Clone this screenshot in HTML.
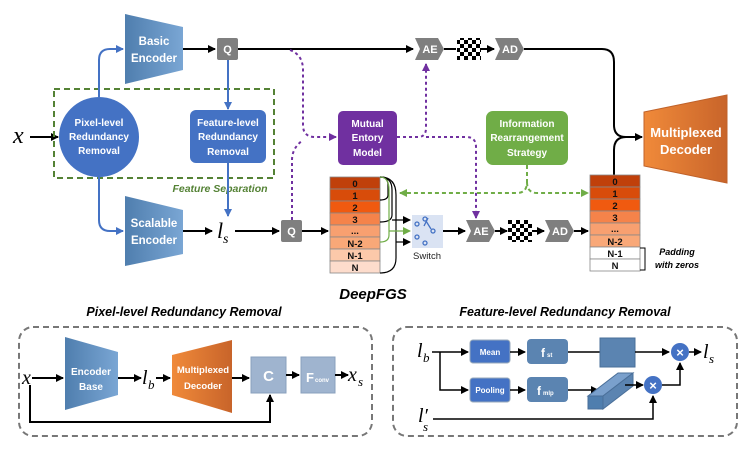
<!DOCTYPE html>
<html><head><meta charset="utf-8"><style>
html,body{margin:0;padding:0;background:#fff}
svg{display:block}
text{font-family:"Liberation Sans",sans-serif}
.w{fill:#fff;font-weight:bold;font-size:10px;text-anchor:middle}
.m{font-family:"Liberation Serif",serif;font-style:italic;font-size:20px}
.c{font-size:9.5px;font-weight:bold;text-anchor:middle;fill:#111}
</style></head><body>
<svg width="747" height="449" viewBox="0 0 747 449" xmlns="http://www.w3.org/2000/svg">
<defs>
<marker id="a" markerWidth="8" markerHeight="8" refX="7" refY="4" orient="auto" markerUnits="userSpaceOnUse"><path d="M0,0 L8,4 L0,8 z" fill="#000"/></marker>
<marker id="ab" markerWidth="8" markerHeight="8" refX="7" refY="4" orient="auto" markerUnits="userSpaceOnUse"><path d="M0,0 L8,4 L0,8 z" fill="#4472c4"/></marker>
<marker id="ap" markerWidth="8" markerHeight="8" refX="7" refY="4" orient="auto" markerUnits="userSpaceOnUse"><path d="M0,0 L8,4 L0,8 z" fill="#7030a0"/></marker>
<marker id="ag" markerWidth="8" markerHeight="8" refX="7" refY="4" orient="auto" markerUnits="userSpaceOnUse"><path d="M0,0 L8,4 L0,8 z" fill="#70ad47"/></marker>
<linearGradient id="enc" x1="0" x2="1"><stop offset="0" stop-color="#4f7eae"/><stop offset="1" stop-color="#7aa6d4"/></linearGradient>
<linearGradient id="dec" x1="0" x2="1"><stop offset="0" stop-color="#f08a3a"/><stop offset="1" stop-color="#c8642a"/></linearGradient>
<pattern id="chk" width="8" height="8" patternUnits="userSpaceOnUse"><rect width="4" height="4" fill="#000"/><rect x="4" y="4" width="4" height="4" fill="#000"/></pattern>
</defs>

<!-- Top section -->
<text class="m" x="13" y="143" style="font-size:24px">x</text>
<line x1="30" y1="137" x2="58" y2="137" stroke="#000" stroke-width="2" marker-end="url(#a)"/>
<rect x="54" y="89" width="220" height="89" fill="none" stroke="#548235" stroke-width="2" stroke-dasharray="6,4"/>
<text x="220" y="192" fill="#548235" font-size="10.5" font-weight="bold" font-style="italic" text-anchor="middle">Feature Separation</text>

<path d="M99,97 V60 Q99,49 110,49 H123" fill="none" stroke="#4472c4" stroke-width="2" marker-end="url(#ab)"/>
<path d="M99,176 V220 Q99,231 110,231 H123" fill="none" stroke="#4472c4" stroke-width="2" marker-end="url(#ab)"/>
<line x1="228" y1="60" x2="228" y2="109" stroke="#4472c4" stroke-width="2" marker-end="url(#ab)"/>
<line x1="228" y1="163" x2="228" y2="216" stroke="#4472c4" stroke-width="2" marker-end="url(#ab)"/>

<circle cx="99" cy="137" r="40" fill="#4472c4"/>
<text class="w" x="99" y="126">Pixel-level</text>
<text class="w" x="99" y="140">Redundancy</text>
<text class="w" x="99" y="154">Removal</text>
<rect x="190" y="110" width="76" height="53" rx="6" fill="#4472c4"/>
<text class="w" x="228" y="126">Feature-level</text>
<text class="w" x="228" y="140">Redundancy</text>
<text class="w" x="228" y="155">Removal</text>

<polygon points="125,14 183,27 183,70 125,84" fill="url(#enc)"/>
<text class="w" x="154" y="45" style="font-size:11.5px">Basic</text>
<text class="w" x="154" y="62" style="font-size:11.5px">Encoder</text>
<polygon points="125,196 183,210 183,254 125,266" fill="url(#enc)"/>
<text class="w" x="154" y="227" style="font-size:11.5px">Scalable</text>
<text class="w" x="154" y="244" style="font-size:11.5px">Encoder</text>

<line x1="183" y1="49" x2="215" y2="49" stroke="#000" stroke-width="2" marker-end="url(#a)"/>
<rect x="217" y="38" width="21" height="22" rx="2" fill="#7f7f7f"/><text class="w" x="227.5" y="53" style="font-size:11px">Q</text>
<line x1="238" y1="49" x2="413" y2="49" stroke="#000" stroke-width="2" marker-end="url(#a)"/>

<line x1="183" y1="231" x2="212" y2="231" stroke="#000" stroke-width="2" marker-end="url(#a)"/>
<text class="m" x="217" y="238" style="font-size:22px">l</text><text class="m" x="223" y="243" style="font-size:14px">s</text>
<line x1="235" y1="231" x2="279" y2="231" stroke="#000" stroke-width="2" marker-end="url(#a)"/>
<rect x="281" y="220" width="21" height="22" rx="2" fill="#7f7f7f"/><text class="w" x="291.5" y="235" style="font-size:11px">Q</text>
<line x1="302" y1="231" x2="328" y2="231" stroke="#000" stroke-width="2" marker-end="url(#a)"/>

<g fill="none" stroke="#7030a0" stroke-width="2" stroke-dasharray="3,3">
<path d="M290,50 Q303,55 303,70 V125 Q303,137 315,137 H336" marker-end="url(#ap)"/>
<path d="M292,220 V160 Q292,148 303,140"/>
<path d="M397,137 H418 Q426,137 426,128 V64" marker-end="url(#ap)"/>
<path d="M426,137 H466 Q476,137 476,147 V218" marker-end="url(#ap)"/>
</g>
<rect x="338" y="111" width="59" height="54" rx="5" fill="#7030a0"/>
<text class="w" x="367.5" y="127">Mutual</text>
<text class="w" x="367.5" y="141">Entory</text>
<text class="w" x="367.5" y="156">Model</text>

<polygon points="415,38 438,38 444,49 438,60 415,60 420,49" fill="#7f7f7f"/><text class="w" x="430" y="53" style="font-size:11px">AE</text>
<line x1="444" y1="49" x2="456" y2="49" stroke="#000" stroke-width="2"/>
<rect x="457" y="38" width="24" height="22" fill="url(#chk)"/>
<line x1="481" y1="49" x2="494" y2="49" stroke="#000" stroke-width="2" marker-end="url(#a)"/>
<polygon points="495,38 518,38 524,49 518,60 495,60 500,49" fill="#7f7f7f"/><text class="w" x="510" y="53" style="font-size:11px">AD</text>
<path d="M524,49 H602 Q614,49 614,62 V125 Q614,137 626,137 H642" fill="none" stroke="#000" stroke-width="2" marker-end="url(#a)"/>
<path d="M614,175 V150 Q614,137 626,137" fill="none" stroke="#000" stroke-width="2"/>

<polygon points="644,112 727,95 727,183 644,166" fill="url(#dec)" stroke="#c0622a"/>
<text class="w" x="686" y="137" style="font-size:13px">Multiplexed</text>
<text class="w" x="686" y="154" style="font-size:13px">Decoder</text>

<rect x="486" y="111" width="82" height="54" rx="7" fill="#70ad47"/>
<text class="w" x="527" y="127">Information</text>
<text class="w" x="527" y="141">Rearrangement</text>
<text class="w" x="527" y="156">Strategy</text>
<g fill="none" stroke="#70ad47" stroke-width="2" stroke-dasharray="4,3">
<path d="M527,165 V182 Q527,193 517,193 H400" marker-end="url(#ag)"/>
<path d="M527,182 Q527,193 537,193 H588" marker-end="url(#ag)"/>
</g>

<g stroke="#888" stroke-width="0.8">
<rect x="330" y="177" width="50" height="12" fill="#c0400a"/>
<rect x="330" y="189" width="50" height="12" fill="#d84c0a"/>
<rect x="330" y="201" width="50" height="12" fill="#f05a10"/>
<rect x="330" y="213" width="50" height="12" fill="#f5834a"/>
<rect x="330" y="225" width="50" height="12" fill="#f8a070"/>
<rect x="330" y="237" width="50" height="12" fill="#f9a878"/>
<rect x="330" y="249" width="50" height="12" fill="#fcc9aa"/>
<rect x="330" y="261" width="50" height="12" fill="#fddccc"/>
</g>
<text class="c" x="355" y="187">0</text><text class="c" x="355" y="199">1</text><text class="c" x="355" y="211">2</text><text class="c" x="355" y="223">3</text><text class="c" x="355" y="234">...</text><text class="c" x="355" y="247">N-2</text><text class="c" x="355" y="259">N-1</text><text class="c" x="355" y="271">N</text>
<g fill="none" stroke="#000" stroke-width="1.2">
<path d="M380,177 Q388,177 388,185 V195 Q388,200 380,200"/>
<path d="M380,177 Q392,177 392,190 V215 Q392,222 380,222"/>
<path d="M380,177 Q396,177 396,195 V258 Q396,273 380,273"/>
</g>
<path d="M380,177 Q389,177 389,190 V235 Q389,242 380,242" fill="none" stroke="#70ad47" stroke-width="1.2"/>
<line x1="392" y1="220" x2="410" y2="220" stroke="#000" stroke-width="1.2" marker-end="url(#a)"/>
<line x1="389" y1="231" x2="410" y2="231" stroke="#70ad47" stroke-width="1.2" marker-end="url(#ag)"/>
<line x1="396" y1="242" x2="410" y2="242" stroke="#000" stroke-width="1.2" marker-end="url(#a)"/>
<rect x="412" y="215" width="31" height="33" fill="#dae3f3"/>
<g fill="none" stroke="#4472c4" stroke-width="1.3"><circle cx="417" cy="224" r="2"/><circle cx="425" cy="219" r="2"/><circle cx="433" cy="231" r="2"/><circle cx="417" cy="237" r="2"/><circle cx="425" cy="243" r="2"/><line x1="426" y1="221" x2="431" y2="229"/><line x1="428" y1="218" x2="424" y2="226"/></g>
<text x="427" y="259" font-size="9.5" text-anchor="middle" fill="#222">Switch</text>

<line x1="443" y1="231" x2="465" y2="231" stroke="#000" stroke-width="2" marker-end="url(#a)"/>
<polygon points="466,220 489,220 495,231 489,242 466,242 471,231" fill="#7f7f7f"/><text class="w" x="481" y="235" style="font-size:11px">AE</text>
<line x1="495" y1="231" x2="507" y2="231" stroke="#000" stroke-width="2" marker-end="url(#a)"/>
<rect x="508" y="220" width="24" height="22" fill="url(#chk)"/>
<line x1="532" y1="231" x2="544" y2="231" stroke="#000" stroke-width="2" marker-end="url(#a)"/>
<polygon points="545,220 568,220 574,231 568,242 545,242 550,231" fill="#7f7f7f"/><text class="w" x="560" y="235" style="font-size:11px">AD</text>
<line x1="574" y1="231" x2="588" y2="231" stroke="#000" stroke-width="2" marker-end="url(#a)"/>

<g stroke="#888" stroke-width="0.8">
<rect x="590" y="175" width="50" height="12" fill="#c0400a"/>
<rect x="590" y="187" width="50" height="12" fill="#d84c0a"/>
<rect x="590" y="199" width="50" height="12" fill="#f05a10"/>
<rect x="590" y="211" width="50" height="12" fill="#f5834a"/>
<rect x="590" y="223" width="50" height="12" fill="#f8a070"/>
<rect x="590" y="235" width="50" height="12" fill="#f9a878"/>
<rect x="590" y="247" width="50" height="12" fill="#fff"/>
<rect x="590" y="259" width="50" height="12" fill="#fff"/>
</g>
<text class="c" x="615" y="185">0</text><text class="c" x="615" y="197">1</text><text class="c" x="615" y="209">2</text><text class="c" x="615" y="221">3</text><text class="c" x="615" y="232">...</text><text class="c" x="615" y="245">N-2</text><text class="c" x="615" y="257">N-1</text><text class="c" x="615" y="269">N</text>
<path d="M640,248 H645 V270 H640" fill="none" stroke="#000" stroke-width="1"/>
<text x="677" y="255" font-size="9" font-weight="bold" font-style="italic" text-anchor="middle">Padding</text>
<text x="677" y="268" font-size="9" font-weight="bold" font-style="italic" text-anchor="middle">with zeros</text>

<text x="373" y="299" font-size="15" font-weight="bold" font-style="italic" text-anchor="middle">DeepFGS</text>
<text x="184" y="316" font-size="12.5" font-weight="bold" font-style="italic" text-anchor="middle">Pixel-level Redundancy Removal</text>
<text x="565" y="316" font-size="12.5" font-weight="bold" font-style="italic" text-anchor="middle">Feature-level Redundancy Removal</text>

<rect x="19" y="327" width="353" height="109" rx="14" fill="none" stroke="#777" stroke-width="2" stroke-dasharray="6,4"/>
<text class="m" x="22" y="384">x</text>
<line x1="32" y1="378" x2="63" y2="378" stroke="#000" stroke-width="2" marker-end="url(#a)"/>
<polygon points="65,337 118,352 118,395 65,410" fill="url(#enc)"/>
<text class="w" x="91" y="375">Encoder</text><text class="w" x="91" y="390">Base</text>
<line x1="118" y1="378" x2="141" y2="378" stroke="#000" stroke-width="2" marker-end="url(#a)"/>
<text class="m" x="142" y="384">l</text><text class="m" x="148" y="389" style="font-size:13px">b</text>
<line x1="156" y1="378" x2="170" y2="378" stroke="#000" stroke-width="2" marker-end="url(#a)"/>
<polygon points="172,355 232,340 232,413 172,395" fill="url(#dec)"/>
<text class="w" x="203" y="373" style="font-size:9.5px">Multiplexed</text><text class="w" x="203" y="389" style="font-size:9.5px">Decoder</text>
<line x1="232" y1="378" x2="249" y2="378" stroke="#000" stroke-width="2" marker-end="url(#a)"/>
<rect x="251" y="357" width="35" height="36" fill="#9fb4cf" stroke="#8aa0bd"/>
<text class="w" x="268.5" y="381" style="font-size:15px">C</text>
<line x1="286" y1="375" x2="299" y2="375" stroke="#000" stroke-width="2" marker-end="url(#a)"/>
<rect x="301" y="357" width="34" height="36" fill="#9fb4cf" stroke="#8aa0bd"/>
<text x="306" y="382" fill="#fff" font-weight="bold" font-size="13">F</text><text x="315" y="382" fill="#fff" font-weight="bold" font-size="6">conv</text>
<line x1="335" y1="375" x2="348" y2="375" stroke="#000" stroke-width="2" marker-end="url(#a)"/>
<text class="m" x="348" y="381">x</text><text class="m" x="358" y="386" style="font-size:13px">s</text>
<path d="M30,385 V422 H270 V395" fill="none" stroke="#000" stroke-width="2" marker-end="url(#a)"/>

<rect x="393" y="327" width="344" height="109" rx="14" fill="none" stroke="#777" stroke-width="2" stroke-dasharray="6,4"/>
<text class="m" x="417" y="357">l</text><text class="m" x="423" y="362" style="font-size:13px">b</text>
<path d="M432,352 H468" fill="none" stroke="#000" stroke-width="1.5" marker-end="url(#a)"/>
<path d="M440,352 V390 H468" fill="none" stroke="#000" stroke-width="1.5" marker-end="url(#a)"/>
<rect x="470" y="340" width="40" height="23" rx="3" fill="#4472c4" stroke="#9ab"/>
<text class="w" x="490" y="355" style="font-size:8px">Mean</text>
<rect x="470" y="378" width="40" height="24" rx="3" fill="#4472c4" stroke="#9ab"/>
<text class="w" x="490" y="393" style="font-size:8px">Pooling</text>
<line x1="510" y1="352" x2="525" y2="352" stroke="#000" stroke-width="1.5" marker-end="url(#a)"/>
<line x1="510" y1="390" x2="525" y2="390" stroke="#000" stroke-width="1.5" marker-end="url(#a)"/>
<rect x="527" y="339" width="41" height="25" rx="4" fill="#5b84b1"/>
<text x="541" y="357" fill="#fff" font-weight="bold" font-size="12">f</text><text x="547" y="357" fill="#fff" font-weight="bold" font-size="6">st</text>
<rect x="527" y="377" width="41" height="25" rx="4" fill="#5b84b1"/>
<text x="537" y="395" fill="#fff" font-weight="bold" font-size="12">f</text><text x="543" y="395" fill="#fff" font-weight="bold" font-size="6">mlp</text>
<line x1="568" y1="352" x2="600" y2="352" stroke="#000" stroke-width="1.5"/>
<rect x="600" y="338" width="35" height="29" fill="#5b84b1" stroke="#4a6f99"/>
<line x1="635" y1="352" x2="669" y2="352" stroke="#000" stroke-width="1.5" marker-end="url(#a)"/>
<line x1="568" y1="390" x2="598" y2="390" stroke="#000" stroke-width="1.5" marker-end="url(#a)"/>
<polygon points="588,396 618,373 633,373 603,396" fill="#7aa0cc" stroke="#4a6f99"/>
<polygon points="588,396 603,396 603,409 588,409" fill="#4f7eae" stroke="#4a6f99"/>
<polygon points="603,396 633,373 633,386 603,409" fill="#5b84b1" stroke="#4a6f99"/>
<line x1="625" y1="385" x2="643" y2="385" stroke="#000" stroke-width="1.5" marker-end="url(#a)"/>
<circle cx="680" cy="352" r="9" fill="#4472c4"/><text x="680" y="357" fill="#fff" font-weight="bold" font-size="13" text-anchor="middle">×</text>
<circle cx="653" cy="385" r="9" fill="#4472c4"/><text x="653" y="390" fill="#fff" font-weight="bold" font-size="13" text-anchor="middle">×</text>
<path d="M662,385 H680 V363" fill="none" stroke="#000" stroke-width="1.5" marker-end="url(#a)"/>
<line x1="689" y1="352" x2="701" y2="352" stroke="#000" stroke-width="1.5" marker-end="url(#a)"/>
<text class="m" x="703" y="358">l</text><text class="m" x="709" y="363" style="font-size:13px">s</text>
<text class="m" x="418" y="422">l′</text><text class="m" x="423" y="431" style="font-size:13px">s</text>
<path d="M433,419 H653 V396" fill="none" stroke="#000" stroke-width="1.5" marker-end="url(#a)"/>
</svg>
</body></html>
